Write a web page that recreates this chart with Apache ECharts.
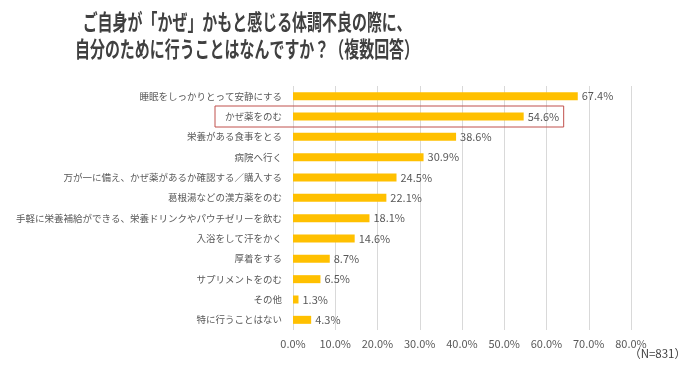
<!DOCTYPE html>
<html>
<head>
<meta charset="utf-8">
<script src="https://cdn.jsdelivr.net/npm/echarts@6/dist/echarts.min.js"></script>
<style>html,body{margin:0;padding:0;background:#fff}#c{width:700px;height:370px}</style>
</head>
<body>
<div id="c"></div>
<script>
const titleLines = ['ご自身が「かぜ」かもと感じる体調不良の際に、', '自分のために行うことはなんですか？（複数回答）'];
const categories = [
  '睡眠をしっかりとって安静にする',
  'かぜ薬をのむ',
  '栄養がある食事をとる',
  '病院へ行く',
  '万が一に備え、かぜ薬があるか確認する／購入する',
  '葛根湯などの漢方薬をのむ',
  '手軽に栄養補給ができる、栄養ドリンクやパウチゼリーを飲む',
  '入浴をして汗をかく',
  '厚着をする',
  'サプリメントをのむ',
  'その他',
  '特に行うことはない'
];
const values = [67.4, 54.6, 38.6, 30.9, 24.5, 22.1, 18.1, 14.6, 8.7, 6.5, 1.3, 4.3];
const xTicks = [0, 10, 20, 30, 40, 50, 60, 70, 80];
const highlightIndex = 1;
const noteText = '（N=831）';

const FONT = '"Noto Sans CJK JP", "Noto Sans", sans-serif';
const chart = echarts.init(document.getElementById('c'), null, {renderer: 'canvas'});

const option = {
  animation: false,
  backgroundColor: '#ffffff',
  grid: {left: 293, right: 69, top: 86, bottom: 40, containLabel: false},
  xAxis: {
    type: 'value',
    min: xTicks[0],
    max: xTicks[xTicks.length - 1],
    interval: xTicks[1] - xTicks[0],
    axisLine: {show: false},
    axisTick: {show: false},
    splitLine: {show: true, lineStyle: {color: '#D9D9D9', width: 1}},
    axisLabel: {
      color: '#595959', fontSize: 11, fontFamily: FONT, margin: 8,
      formatter: v => v.toFixed(1) + '%'
    }
  },
  yAxis: {
    type: 'category',
    data: categories,
    inverse: true,
    axisLine: {show: false},
    axisTick: {show: false},
    splitLine: {show: false},
    axisLabel: {color: '#595959', fontSize: 9.5, fontFamily: FONT, margin: 11}
  },
  series: [{
    type: 'bar',
    data: values,
    barWidth: 8,
    itemStyle: {color: '#FFC000'},
    label: {
      show: true, position: 'right', distance: 4,
      color: '#595959', fontSize: 11, fontFamily: FONT,
      formatter: p => p.value.toFixed(1) + '%'
    }
  }],
  graphic: [
    {
      type: 'text', x: 247, y: 22, scaleX: 0.68,
      style: {text: titleLines[0], font: 'bold 22px ' + FONT, fill: '#404040', textAlign: 'center', textVerticalAlign: 'middle'}
    },
    {
      type: 'text', x: 247, y: 49, scaleX: 0.68,
      style: {text: titleLines[1], font: 'bold 22px ' + FONT, fill: '#404040', textAlign: 'center', textVerticalAlign: 'middle'}
    },
    {
      type: 'text', right: 14, top: 348,
      style: {text: noteText, font: '11.5px ' + FONT, fill: '#404040'}
    }
  ]
};
chart.setOption(option);

// highlight box around the selected row, positioned from the axis scales
const p0 = chart.convertToPixel({seriesIndex: 0}, [0, highlightIndex]);
const p1 = chart.convertToPixel({seriesIndex: 0}, [values[highlightIndex], highlightIndex]);
const boxLeft = p0[0] - 78, boxRight = p1[0] + 40;
chart.setOption({
  graphic: option.graphic.concat([{
    type: 'rect',
    shape: {x: boxLeft, y: p0[1] - 10.5, width: boxRight - boxLeft, height: 21},
    style: {fill: 'none', stroke: '#C0504D', lineWidth: 1},
    z: 10
  }])
});
</script>
</body>
</html>
